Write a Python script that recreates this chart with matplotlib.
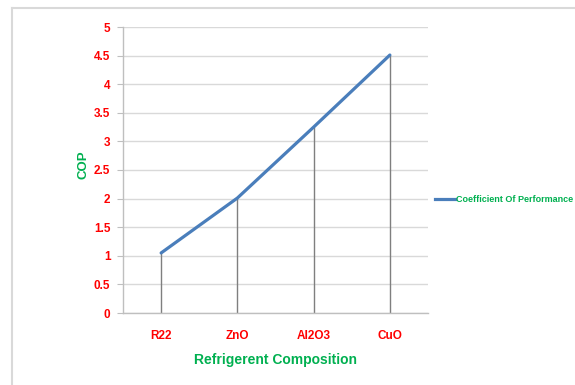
import matplotlib
matplotlib.use('Agg')
import matplotlib.pyplot as plt
from matplotlib.lines import Line2D

plt.rcParams['font.family'] = ['Liberation Sans', 'DejaVu Sans']
plt.rcParams['font.weight'] = 'bold'

categories = ['R22', 'ZnO', 'Al2O3', 'CuO']
cop = [1.05, 2.01, 3.25, 4.51]
yticks = [0, 0.5, 1, 1.5, 2, 2.5, 3, 3.5, 4, 4.5, 5]
ytick_labels = ['0', '0.5', '1', '1.5', '2', '2.5', '3', '3.5', '4', '4.5', '5']

RED = '#FF0000'
GREEN = '#00B050'
BLUE = '#4A7EBB'

fig = plt.figure(figsize=(5.75, 3.85), dpi=100)
ax = fig.add_axes([123/575, 1-313/385, 305/575, 286/385])

x = list(range(len(categories)))
# drop lines from each point to the axis
ax.vlines(x, 0, cop, color='#7f7f7f', lw=1.0, zorder=2)
ax.plot(x, cop, color=BLUE, lw=2.3, solid_capstyle='round', zorder=3)

ax.set_xlim(-0.5, len(categories) - 0.5)
ax.set_ylim(0, 5)
ax.set_yticks(yticks)
ax.set_yticklabels(ytick_labels, color=RED, fontsize=8.5, fontweight='bold')
ax.set_xticks(x)
ax.set_xticklabels(categories, color=RED, fontsize=8.5, fontweight='bold')
ax.tick_params(axis='x', length=0, pad=12)
ax.tick_params(axis='y', length=4, color='#bfbfbf', pad=5)

ax.grid(axis='y', color='#d9d9d9', lw=1.0)
ax.set_axisbelow(True)
for s in ['top', 'right']:
    ax.spines[s].set_visible(False)
for s in ['left', 'bottom']:
    ax.spines[s].set_color('#bfbfbf')
    ax.spines[s].set_linewidth(1.0)

ax.set_ylabel('COP', color=GREEN, fontsize=9.5, fontweight='bold')
ax.yaxis.set_label_coords(-0.11, 0.52)
ax.set_xlabel('Refrigerent Composition', color=GREEN, fontsize=10, fontweight='bold', labelpad=8)

# legend to the right of the plot
handle = Line2D([], [], color=BLUE, lw=2.3)
leg = fig.legend([handle], ['Coefficient Of Performance'], loc='center left',
                 bbox_to_anchor=(435/575, 1-200/385), frameon=False,
                 handlelength=2.2, handletextpad=0.1, borderpad=0, borderaxespad=0,
                 prop={'weight': 'bold', 'size': 6.5})
for t in leg.get_texts():
    t.set_color(GREEN)

# chart area frame
fig.add_artist(Line2D([12/575, 12/575], [0, 1-8/385], color='#d9d9d9', lw=1.5,
                      transform=fig.transFigure))
fig.add_artist(Line2D([12/575, 1], [1-8/385, 1-8/385], color='#d9d9d9', lw=1.5,
                      transform=fig.transFigure))

fig.savefig('out.png', dpi=100)
